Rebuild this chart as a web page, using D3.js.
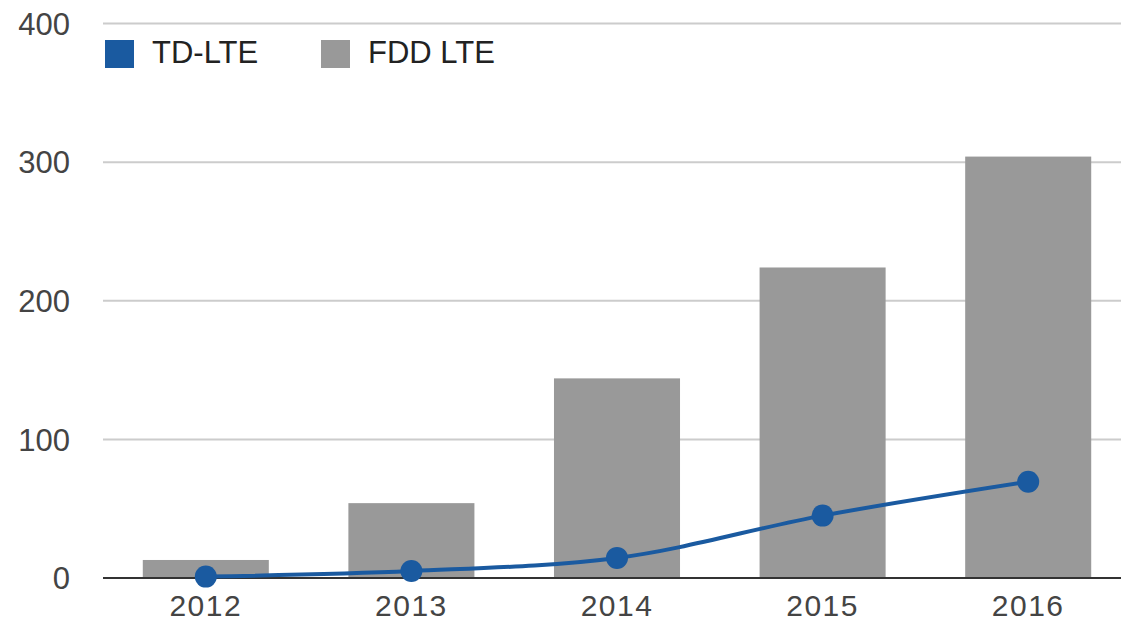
<!DOCTYPE html>
<html>
<head>
<meta charset="utf-8">
<script src="https://cdn.jsdelivr.net/npm/d3@7"></script>
<style>
  body { margin: 0; background: #fff; }
  svg { display: block; font-family: "Liberation Sans", Arial, sans-serif; }
</style>
</head>
<body>
<div id="chart"></div>
<script>
// values
var years = ["2012", "2013", "2014", "2015", "2016"];
var fddLte = [13, 54, 144, 224, 304];
var tdLte = [1, 5, 14.5, 45, 69.5];
var yTicks = [0, 100, 200, 300, 400];
var seriesNames = ["TD-LTE", "FDD LTE"];

var width = 1121,
    height = 624;

var blue = "#1a5aa0",
    grey = "#999999";

var svg = d3.select("#chart").append("svg")
    .attr("width", width)
    .attr("height", height);

var x = d3.scaleBand()
    .domain(years)
    .range([103, 1131])
    .paddingInner(0.387)
    .paddingOuter(0.1935);

var y = d3.scaleLinear()
    .domain([0, 400])
    .range([578, 23.5]);

// gridlines
svg.selectAll(".grid")
    .data(yTicks.filter(function(d) { return d > 0; }))
    .enter().append("line")
    .attr("class", "grid")
    .attr("x1", 103)
    .attr("x2", 1131)
    .attr("y1", function(d) { return y(d); })
    .attr("y2", function(d) { return y(d); })
    .style("stroke", "#cccccc")
    .style("stroke-width", 2);

// y labels
svg.selectAll(".ylab")
    .data(yTicks)
    .enter().append("text")
    .attr("class", "ylab")
    .attr("x", 70)
    .attr("y", function(d) { return y(d) + 3; })
    .attr("text-anchor", "end")
    .attr("dominant-baseline", "middle")
    .style("font-size", "31px")
    .style("fill", "#444")
    .text(function(d) { return d; });

// bars
svg.selectAll(".bar")
    .data(fddLte)
    .enter().append("rect")
    .attr("class", "bar")
    .attr("x", function(d, i) { return x(years[i]); })
    .attr("width", x.bandwidth())
    .attr("height", function(d) { return y(0) - y(d); })
    .attr("y", function(d) { return y(d); })
    .style("fill", grey);

// baseline
svg.append("line")
    .attr("x1", 103)
    .attr("x2", 1131)
    .attr("y1", y(0))
    .attr("y2", y(0))
    .style("stroke", "#333")
    .style("stroke-width", 2);

// x labels
svg.selectAll(".xlab")
    .data(years)
    .enter().append("text")
    .attr("class", "xlab")
    .attr("x", function(d) { return x(d) + x.bandwidth() / 2; })
    .attr("y", 616)
    .attr("text-anchor", "middle")
    .style("font-size", "30px")
    .style("letter-spacing", "1.5px")
    .style("fill", "#444")
    .text(function(d) { return d; });

// TD-LTE line
var line = d3.line()
    .curve(d3.curveMonotoneX)
    .x(function(d, i) { return x(years[i]) + x.bandwidth() / 2; })
    .y(function(d) { return y(d); });

svg.append("path")
    .datum(tdLte)
    .attr("d", line)
    .style("fill", "none")
    .style("stroke", blue)
    .style("stroke-width", 4);

svg.selectAll(".dot")
    .data(tdLte)
    .enter().append("circle")
    .attr("class", "dot")
    .attr("cx", function(d, i) { return x(years[i]) + x.bandwidth() / 2; })
    .attr("cy", function(d) { return y(d); })
    .attr("r", 11)
    .style("fill", blue);

// legend
var legendX = [105, 321];
var legend = svg.selectAll(".legend")
    .data(seriesNames)
    .enter().append("g")
    .attr("class", "legend")
    .attr("transform", function(d, i) { return "translate(" + legendX[i] + ",40)"; });

legend.append("rect")
    .attr("width", 29)
    .attr("height", 28)
    .style("fill", function(d, i) { return i === 0 ? blue : grey; });

legend.append("text")
    .attr("x", 47)
    .attr("y", 23)
    .style("font-size", "31px")
    .style("fill", "#222")
    .text(function(d) { return d; });
</script>
</body>
</html>
